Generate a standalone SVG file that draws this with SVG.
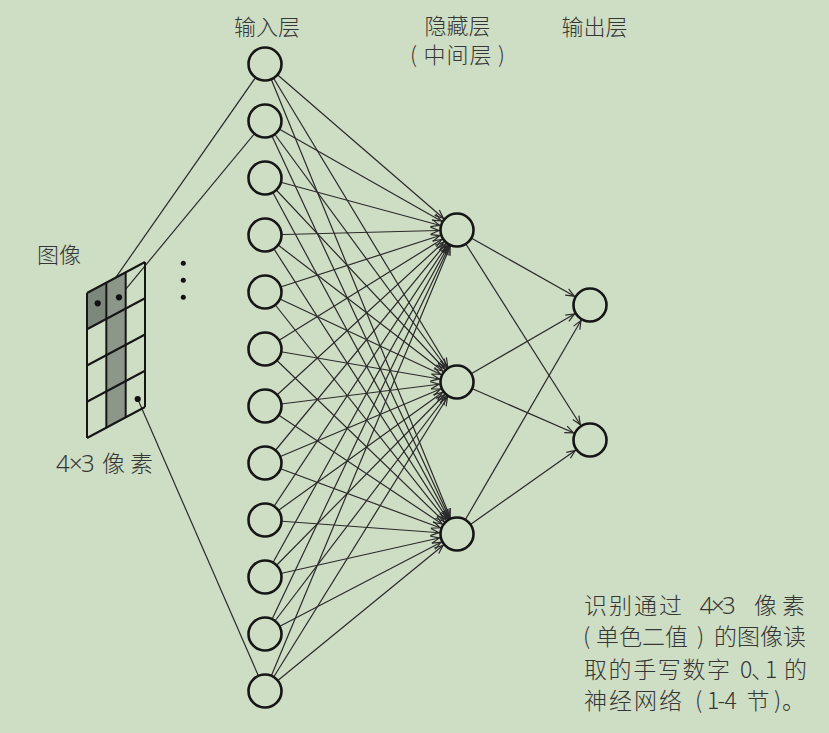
<svg xmlns="http://www.w3.org/2000/svg" width="829" height="733" viewBox="0 0 829 733">
<style>
.bg{fill:#cedec4}
.c{stroke:#2a2a2a;stroke-width:1.2;fill:none}
.cm{stroke:#2a2a2a;stroke-width:1.2;fill:none;marker-end:url(#arr)}
.n{fill:#cedec4;stroke:#161616;stroke-width:2.6}
.g{stroke:#161616;stroke-width:2;fill:none}
.t{font-family:"Noto Sans CJK SC","Noto Sans",sans-serif;fill:#363636;font-size:22px;font-weight:300}
.p{font-family:"Noto Sans CJK SC","Noto Sans",sans-serif;fill:#363636;font-size:23px;font-weight:300}
.lat{font-family:"Noto Sans",sans-serif;font-size:24px}
</style>
<defs>
<marker id="arr" markerUnits="userSpaceOnUse" orient="auto" refX="0" refY="0" markerWidth="1" markerHeight="1" overflow="visible">
<path d="M-26.5,-3.6 L-18,0 L-26.5,3.6" fill="none" stroke="#2a2a2a" stroke-width="1.2"/>
</marker>
</defs>
<rect class="bg" x="0" y="0" width="829" height="733"/>

<g id="connectors">
<line class="c" x1="97.7" y1="303.3" x2="265" y2="64"/>
<line class="c" x1="119" y1="297.3" x2="265" y2="121"/>
<line class="c" x1="137.7" y1="399" x2="265" y2="691"/>
<line class="cm" x1="265" y1="64" x2="457" y2="230"/><line class="cm" x1="265" y1="64" x2="457" y2="382"/><line class="cm" x1="265" y1="64" x2="457" y2="534"/>
<line class="cm" x1="265" y1="121" x2="457" y2="230"/><line class="cm" x1="265" y1="121" x2="457" y2="382"/><line class="cm" x1="265" y1="121" x2="457" y2="534"/>
<line class="cm" x1="265" y1="178" x2="457" y2="230"/><line class="cm" x1="265" y1="178" x2="457" y2="382"/><line class="cm" x1="265" y1="178" x2="457" y2="534"/>
<line class="cm" x1="265" y1="235" x2="457" y2="230"/><line class="cm" x1="265" y1="235" x2="457" y2="382"/><line class="cm" x1="265" y1="235" x2="457" y2="534"/>
<line class="cm" x1="265" y1="292" x2="457" y2="230"/><line class="cm" x1="265" y1="292" x2="457" y2="382"/><line class="cm" x1="265" y1="292" x2="457" y2="534"/>
<line class="cm" x1="265" y1="349" x2="457" y2="230"/><line class="cm" x1="265" y1="349" x2="457" y2="382"/><line class="cm" x1="265" y1="349" x2="457" y2="534"/>
<line class="cm" x1="265" y1="406" x2="457" y2="230"/><line class="cm" x1="265" y1="406" x2="457" y2="382"/><line class="cm" x1="265" y1="406" x2="457" y2="534"/>
<line class="cm" x1="265" y1="463" x2="457" y2="230"/><line class="cm" x1="265" y1="463" x2="457" y2="382"/><line class="cm" x1="265" y1="463" x2="457" y2="534"/>
<line class="cm" x1="265" y1="520" x2="457" y2="230"/><line class="cm" x1="265" y1="520" x2="457" y2="382"/><line class="cm" x1="265" y1="520" x2="457" y2="534"/>
<line class="cm" x1="265" y1="577" x2="457" y2="230"/><line class="cm" x1="265" y1="577" x2="457" y2="382"/><line class="cm" x1="265" y1="577" x2="457" y2="534"/>
<line class="cm" x1="265" y1="634" x2="457" y2="230"/><line class="cm" x1="265" y1="634" x2="457" y2="382"/><line class="cm" x1="265" y1="634" x2="457" y2="534"/>
<line class="cm" x1="265" y1="691" x2="457" y2="230"/><line class="cm" x1="265" y1="691" x2="457" y2="382"/><line class="cm" x1="265" y1="691" x2="457" y2="534"/>
<line class="cm" x1="457" y1="230" x2="590" y2="305"/><line class="cm" x1="457" y1="230" x2="590" y2="440"/>
<line class="cm" x1="457" y1="382" x2="590" y2="305"/><line class="cm" x1="457" y1="382" x2="590" y2="440"/>
<line class="cm" x1="457" y1="534" x2="590" y2="305"/><line class="cm" x1="457" y1="534" x2="590" y2="440"/>
</g>

<g id="image">
<polygon points="87,293 106.33,282.67 106.33,318.92 87,329.25" fill="#7d887c"/>
<polygon points="106.33,282.67 125.67,272.33 125.67,417.33 106.33,427.67" fill="#8c978a"/>
<g class="g">
<line x1="87" y1="293" x2="87" y2="438"/>
<line x1="106.33" y1="282.67" x2="106.33" y2="427.67"/>
<line x1="125.67" y1="272.33" x2="125.67" y2="417.33"/>
<line x1="145" y1="262" x2="145" y2="407"/>
<line x1="87" y1="293" x2="145" y2="262"/>
<line x1="87" y1="329.25" x2="145" y2="298.25"/>
<line x1="87" y1="365.5" x2="145" y2="334.5"/>
<line x1="87" y1="401.75" x2="145" y2="370.75"/>
<line x1="87" y1="438" x2="145" y2="407"/>
</g>
<circle cx="97.7" cy="303.3" r="3.1" fill="#111"/>
<circle cx="119" cy="297.3" r="3.1" fill="#111"/>
<circle cx="137.7" cy="399" r="3.1" fill="#111"/>
<text class="t" x="37" y="262.5">图像</text>
<text class="p" y="472"><tspan class="lat" x="56 69 81">4×3</tspan><tspan x="102" letter-spacing="5">像素</tspan></text>
</g>

<g id="ellipsis" fill="#111">
<circle cx="183.3" cy="263.3" r="2.5"/>
<circle cx="183.3" cy="280.3" r="2.5"/>
<circle cx="183.3" cy="297.3" r="2.5"/>
</g>

<g id="input-layer">
<text class="t" x="267" y="34.5" text-anchor="middle">输入层</text>
<g id="in1"><circle class="n" cx="265" cy="64" r="16.5"/></g>
<g id="in2"><circle class="n" cx="265" cy="121" r="16.5"/></g>
<g id="in3"><circle class="n" cx="265" cy="178" r="16.5"/></g>
<g id="in4"><circle class="n" cx="265" cy="235" r="16.5"/></g>
<g id="in5"><circle class="n" cx="265" cy="292" r="16.5"/></g>
<g id="in6"><circle class="n" cx="265" cy="349" r="16.5"/></g>
<g id="in7"><circle class="n" cx="265" cy="406" r="16.5"/></g>
<g id="in8"><circle class="n" cx="265" cy="463" r="16.5"/></g>
<g id="in9"><circle class="n" cx="265" cy="520" r="16.5"/></g>
<g id="in10"><circle class="n" cx="265" cy="577" r="16.5"/></g>
<g id="in11"><circle class="n" cx="265" cy="634" r="16.5"/></g>
<g id="in12"><circle class="n" cx="265" cy="691" r="16.5"/></g>
</g>

<g id="hidden-layer">
<text class="t" x="457.5" y="34" text-anchor="middle">隐藏层</text>
<text class="t" x="457.5" y="62.5" text-anchor="middle" textLength="95" lengthAdjust="spacing">( 中间层 )</text>
<g id="h1"><circle class="n" cx="457" cy="230" r="16.5"/></g>
<g id="h2"><circle class="n" cx="457" cy="382" r="16.5"/></g>
<g id="h3"><circle class="n" cx="457" cy="534" r="16.5"/></g>
</g>

<g id="output-layer">
<text class="t" x="594.5" y="34.5" text-anchor="middle">输出层</text>
<g id="o1"><circle class="n" cx="590" cy="305" r="16.5"/></g>
<g id="o2"><circle class="n" cx="590" cy="440" r="16.5"/></g>
</g>

<g id="caption">
<text class="p" y="614"><tspan x="584" letter-spacing="2">识别通过</tspan><tspan class="lat" x="699.5 711 722">4×3</tspan><tspan x="754" letter-spacing="5">像素</tspan></text>
<text class="p" y="645"><tspan x="583">(</tspan><tspan x="596">单色二值</tspan><tspan x="697">)</tspan><tspan x="714">的图像读</tspan></text>
<text class="p" y="678"><tspan x="584" letter-spacing="1.6">取的手写数字</tspan><tspan x="740">0</tspan><tspan x="751" letter-spacing="-11">、</tspan><tspan x="765">1</tspan><tspan x="784">的</tspan></text>
<text class="p" y="709"><tspan x="584" letter-spacing="2">神经网络</tspan><tspan x="695">(</tspan><tspan x="707 717.5 724.5">1-4</tspan><tspan x="746.5">节</tspan><tspan x="774">)</tspan><tspan x="782">。</tspan></text>
</g>
</svg>
